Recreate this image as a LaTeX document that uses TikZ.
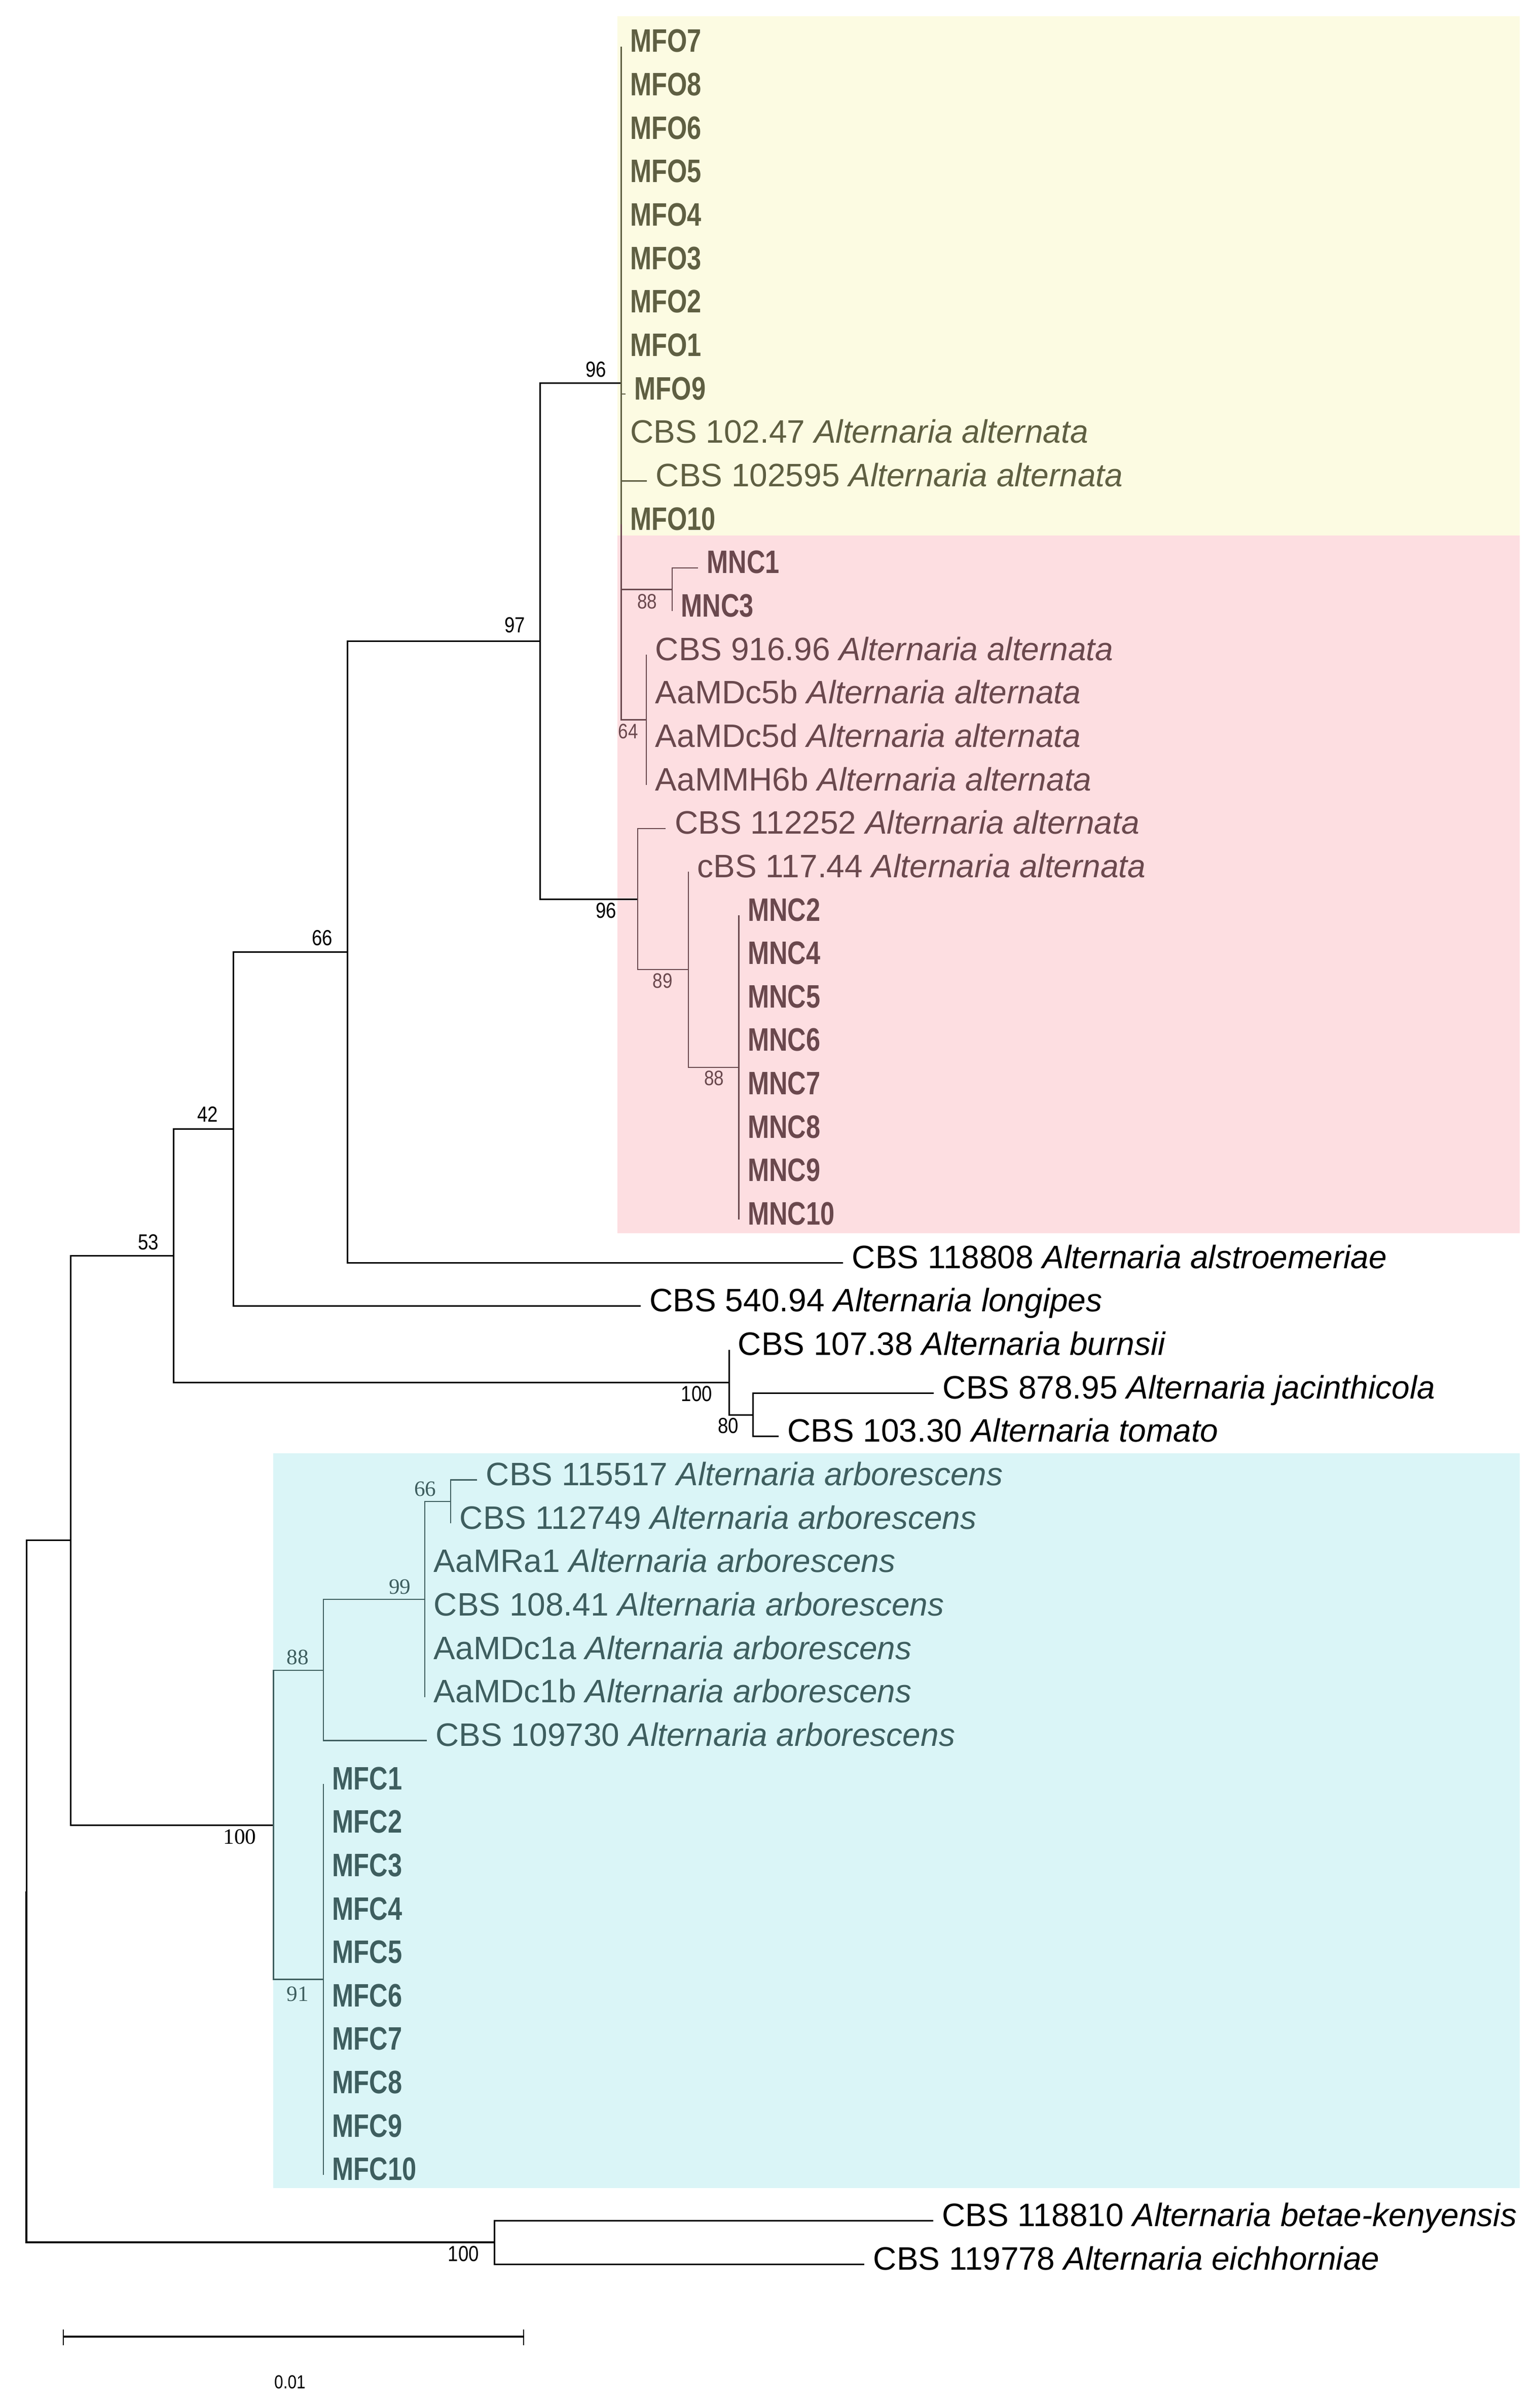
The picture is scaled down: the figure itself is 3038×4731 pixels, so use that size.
\documentclass[tikz,border=0pt]{standalone}
\usepackage{fontspec}
\setmainfont{Liberation Sans}
\newfontfamily\nbfont{Liberation Sans}[FakeStretch=0.79]
\newfontfamily\labfont{Liberation Sans}[FakeStretch=0.85]
\newfontfamily\serlab{Liberation Serif}
\newcommand\bigtx{\fontsize{16pt}{19pt}\selectfont}
\definecolor{yelbg}{HTML}{FCFBE2}
\definecolor{pinkbg}{HTML}{FDDEE1}
\definecolor{cyanbg}{HTML}{DAF5F7}
\definecolor{yeltx}{HTML}{5F5F42}
\definecolor{pinktx}{HTML}{6A484D}
\definecolor{cyantx}{HTML}{3E5E5F}
\newcommand\leaf[5]{\coordinate (#1) at (#2,#3);\node[#4] (t#1) at (#1) {#5};}
\begin{document}
\begin{tikzpicture}[x=0.25pt,y=-0.25pt,
  leafn/.style={anchor=base west, inner sep=0pt, xshift=4.25pt, yshift=-2.75pt, font=\bigtx},
  cladn/.style={leafn, font=\nbfont\bfseries\bigtx},
  br/.style={line width=0.75pt, black},
  ybr/.style={line width=0.6pt, draw=yeltx},
  pbr/.style={line width=0.6pt, draw=pinktx},
  cbr/.style={line width=0.6pt, draw=cyantx},
  blab/.style={anchor=base east, inner sep=0pt, font=\labfont\fontsize{10.75pt}{12pt}\selectfont},
  plab/.style={anchor=base east, inner sep=0pt, text=pinktx, font=\labfont\fontsize{10.3pt}{12pt}\selectfont},
  clab/.style={anchor=base east, inner sep=0pt, text=cyantx, font=\serlab\fontsize{10.8pt}{12pt}\selectfont}]
\useasboundingbox (0,0) rectangle (3038,4731);
\fill[white] (0,0) rectangle (3038,4731);
% clade backgrounds
\fill[yelbg] (1218,31.6) rectangle (2998,1056);
\fill[pinkbg] (1218,1056) rectangle (2998,2431.7);
\fill[cyanbg] (539,2866) rectangle (2998,4315);
% internal nodes
\coordinate (R) at (52,3729.5);
\coordinate (A) at (139,3037);
\coordinate (n53) at (342.8,2476);
\coordinate (n42) at (460.7,2226);
\coordinate (n66) at (685.7,1877);
\coordinate (n97) at (1065,1264);
\coordinate (n96a) at (1225.5,755.5);
\coordinate (n88a) at (1326,1162.6);
\coordinate (n64) at (1275,1419.3);
\coordinate (n96b) at (1258,1773);
\coordinate (n89) at (1358,1912);
\coordinate (n88b) at (1457.5,2104.8);
\coordinate (nbu) at (1438,2726);
\coordinate (n80) at (1485,2790);
\coordinate (c100) at (539.5,3599.5);
\coordinate (n88c) at (637.8,3293.7);
\coordinate (n99) at (838,3154);
\coordinate (n66c) at (889,2961);
\coordinate (n91) at (637.8,3903.4);
\coordinate (out) at (975,4422);
% leaves: yellow clade
\leaf{l1}{1225.5}{92}{cladn,text=yeltx}{MFO7}
\leaf{l2}{1225.5}{177.65}{cladn,text=yeltx}{MFO8}
\leaf{l3}{1225.5}{263.3}{cladn,text=yeltx}{MFO6}
\leaf{l4}{1225.5}{348.95}{cladn,text=yeltx}{MFO5}
\leaf{l5}{1225.5}{434.6}{cladn,text=yeltx}{MFO4}
\leaf{l6}{1225.5}{520.25}{cladn,text=yeltx}{MFO3}
\leaf{l7}{1225.5}{605.9}{cladn,text=yeltx}{MFO2}
\leaf{l8}{1225.5}{691.55}{cladn,text=yeltx}{MFO1}
\leaf{l9}{1234}{777.2}{cladn,text=yeltx}{MFO9}
\leaf{l10}{1225.5}{862.85}{leafn,text=yeltx}{CBS 102.47 \textit{Alternaria alternata}}
\leaf{l11}{1276}{948.5}{leafn,text=yeltx}{CBS 102595 \textit{Alternaria alternata}}
\leaf{l12}{1225.5}{1034.15}{cladn,text=yeltx}{MFO10}
% pink clade
\leaf{l13}{1377}{1119.8}{cladn,text=pinktx}{MNC1}
\leaf{l14}{1326}{1205.45}{cladn,text=pinktx}{MNC3}
\leaf{l15}{1275}{1291.1}{leafn,text=pinktx}{CBS 916.96 \textit{Alternaria alternata}}
\leaf{l16}{1275}{1376.75}{leafn,text=pinktx}{AaMDc5b \textit{Alternaria alternata}}
\leaf{l17}{1275}{1462.4}{leafn,text=pinktx}{AaMDc5d \textit{Alternaria alternata}}
\leaf{l18}{1275}{1548.05}{leafn,text=pinktx}{AaMMH6b \textit{Alternaria alternata}}
\leaf{l19}{1313.4}{1633.7}{leafn,text=pinktx}{CBS 112252 \textit{Alternaria alternata}}
\leaf{l20}{1358}{1719.35}{leafn,text=pinktx}{cBS 117.44 \textit{Alternaria alternata}}
\leaf{l21}{1457.5}{1805}{cladn,text=pinktx}{MNC2}
\leaf{l22}{1457.5}{1890.65}{cladn,text=pinktx}{MNC4}
\leaf{l23}{1457.5}{1976.3}{cladn,text=pinktx}{MNC5}
\leaf{l24}{1457.5}{2061.95}{cladn,text=pinktx}{MNC6}
\leaf{l25}{1457.5}{2147.6}{cladn,text=pinktx}{MNC7}
\leaf{l26}{1457.5}{2233.25}{cladn,text=pinktx}{MNC8}
\leaf{l27}{1457.5}{2318.9}{cladn,text=pinktx}{MNC9}
\leaf{l28}{1457.5}{2404.55}{cladn,text=pinktx}{MNC10}
% uncoloured
\leaf{l29}{1663}{2490.2}{leafn}{CBS 118808 \textit{Alternaria alstroemeriae}}
\leaf{l30}{1263.8}{2575.85}{leafn}{CBS 540.94 \textit{Alternaria longipes}}
\leaf{l31}{1438}{2661.5}{leafn}{CBS 107.38 \textit{Alternaria burnsii}}
\leaf{l32}{1842}{2747.15}{leafn}{CBS 878.95 \textit{Alternaria jacinthicola}}
\leaf{l33}{1535.5}{2832.8}{leafn}{CBS 103.30 \textit{Alternaria tomato}}
% cyan clade
\leaf{l34}{941}{2918.45}{leafn,text=cyantx}{CBS 115517 \textit{Alternaria arborescens}}
\leaf{l35}{889}{3004.1}{leafn,text=cyantx}{CBS 112749 \textit{Alternaria arborescens}}
\leaf{l36}{838}{3089.75}{leafn,text=cyantx}{AaMRa1 \textit{Alternaria arborescens}}
\leaf{l37}{838}{3175.4}{leafn,text=cyantx}{CBS 108.41 \textit{Alternaria arborescens}}
\leaf{l38}{838}{3261.05}{leafn,text=cyantx}{AaMDc1a \textit{Alternaria arborescens}}
\leaf{l39}{838}{3346.7}{leafn,text=cyantx}{AaMDc1b \textit{Alternaria arborescens}}
\leaf{l40}{841.8}{3432.35}{leafn,text=cyantx}{CBS 109730 \textit{Alternaria arborescens}}
\leaf{l41}{637.8}{3518}{cladn,text=cyantx}{MFC1}
\leaf{l42}{637.8}{3603.65}{cladn,text=cyantx}{MFC2}
\leaf{l43}{637.8}{3689.3}{cladn,text=cyantx}{MFC3}
\leaf{l44}{637.8}{3774.95}{cladn,text=cyantx}{MFC4}
\leaf{l45}{637.8}{3860.6}{cladn,text=cyantx}{MFC5}
\leaf{l46}{637.8}{3946.25}{cladn,text=cyantx}{MFC6}
\leaf{l47}{637.8}{4031.9}{cladn,text=cyantx}{MFC7}
\leaf{l48}{637.8}{4117.55}{cladn,text=cyantx}{MFC8}
\leaf{l49}{637.8}{4203.2}{cladn,text=cyantx}{MFC9}
\leaf{l50}{637.8}{4288.85}{cladn,text=cyantx}{MFC10}
% outgroup
\leaf{l51}{1840.8}{4379.5}{leafn}{CBS 118810 \textit{Alternaria betae-kenyensis}}
\leaf{l52}{1705}{4465}{leafn}{CBS 119778 \textit{Alternaria eichhorniae}}
% black branches
\draw[br] (R) |- (A);
\draw[br,line width=0.9pt] (R) |- (out);
\draw[br] (A) |- (n53);
\draw[br] (A) |- (c100);
\draw[br] (n53) |- (n42);
\draw[br] (n53) |- (nbu);
\draw[br] (n42) |- (n66);
\draw[br] (n42) |- (l30);
\draw[br] (n66) |- (n97);
\draw[br] (n66) |- (l29);
\draw[br] (n97) |- (n96a);
\draw[br] (n97) |- (n96b);
\draw[br] (nbu) |- (l31);
\draw[br] (nbu) |- (n80);
\draw[br] (n80) |- (l32);
\draw[br] (n80) |- (l33);
\draw[br] (out) |- (l51);
\draw[br] (out) |- (l52);
% pink branches
\draw[pbr] (n96a) |- (n88a);
\draw[pbr] (n96a) |- (n64);
\draw[pbr] (n88a) |- (l13);
\draw[pbr] (n88a) |- (l14);
\foreach \k in {15,16,17,18} {\draw[pbr] (n64) |- (l\k);}
\draw[pbr] (n96b) |- (l19);
\draw[pbr] (n96b) |- (n89);
\draw[pbr] (n89) |- (l20);
\draw[pbr] (n89) |- (n88b);
\foreach \k in {21,...,28} {\draw[pbr] (n88b) |- (l\k);}
% yellow branches
\foreach \k in {1,...,12} {\draw[ybr] (n96a) |- (l\k);}
% cyan branches
\draw[cbr] (c100) |- (n88c);
\draw[cbr] (c100) |- (n91);
\draw[cbr] (n88c) |- (n99);
\draw[cbr] (n88c) |- (l40);
\draw[cbr] (n99) |- (n66c);
\foreach \k in {36,...,39} {\draw[cbr] (n99) |- (l\k);}
\draw[cbr] (n66c) |- (l34);
\draw[cbr] (n66c) |- (l35);
\foreach \k in {41,...,50} {\draw[cbr] (n91) |- (l\k);}
% support values
\node[blab] (s96a) at (1196.5,743) {96};
\node[blab] (s97) at (1037,1247) {97};
\node[blab] (s96b) at (1217,1810) {96};
\node[blab] (s66) at (656.6,1864) {66};
\node[blab] (s42) at (431,2212) {42};
\node[blab] (s53) at (313.8,2464) {53};
\node[plab] (s88a) at (1297,1200) {88};
\node[plab] (s64) at (1259.5,1456) {64};
\node[plab] (s89) at (1327.5,1948) {89};
\node[plab] (s88b) at (1429,2140) {88};
\node[blab] (s100b) at (1405.5,2763) {100};
\node[blab] (s80) at (1457.5,2826) {80};
\node[clab] (s66c) at (861,2950) {66};
\node[clab] (s99) at (811,3143) {99};
\node[clab] (s88c) at (609.7,3282) {88};
\node[clab,text=black] (s100c) at (506,3636) {100};
\node[clab] (s91) at (609.7,3946) {91};
\node[blab] (s100o) at (945.6,4459) {100};
% scale bar
\coordinate (sb1) at (124.7,4608);
\coordinate (sb2) at (1033,4608);
\coordinate (sb1t) at (124.7,4594);
\coordinate (sb1b) at (124.7,4625);
\coordinate (sb2t) at (1033,4594);
\coordinate (sb2b) at (1033,4625);
\draw[line width=1pt] (sb1) -- (sb2);
\draw[line width=0.4pt] (sb1t) -- (sb1b);
\draw[line width=0.4pt] (sb2t) -- (sb2b);
\node[anchor=base, inner sep=0pt, font=\labfont\fontsize{9.3pt}{11pt}\selectfont] (sbl) at (572,4710) {0.01};
\end{tikzpicture}
\end{document}
